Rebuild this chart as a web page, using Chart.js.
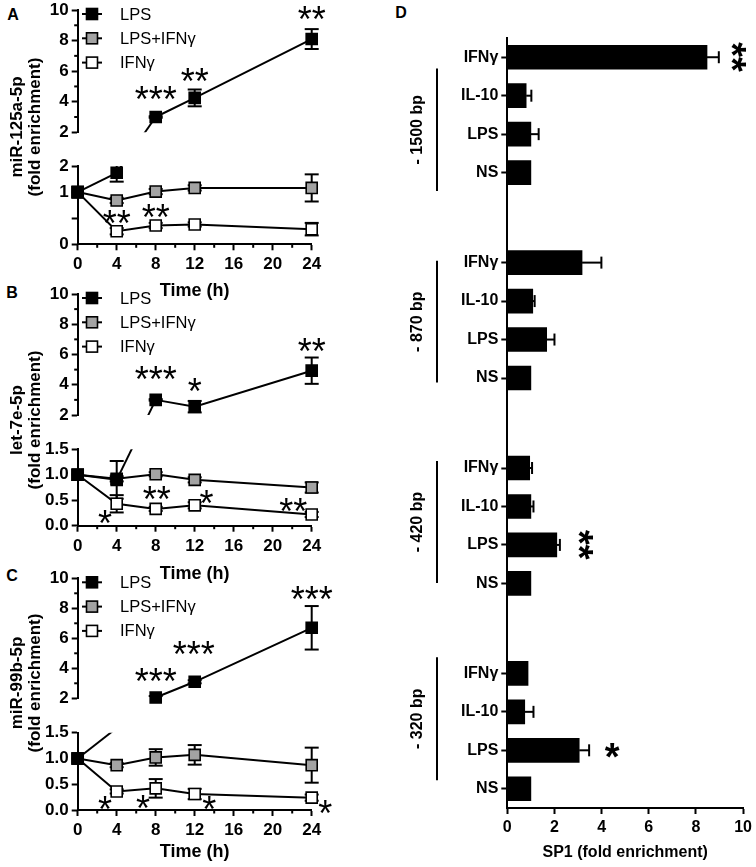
<!DOCTYPE html>
<html><head><meta charset="utf-8">
<script src="https://cdn.jsdelivr.net/npm/chart.js@4.4.1/dist/chart.umd.min.js"></script>
<style>
html,body{margin:0;padding:0;background:#fff;}
body{width:756px;height:867px;position:relative;overflow:hidden;font-family:'Liberation Sans',Arial,Helvetica,sans-serif;}
canvas{position:absolute;}
.lbl{position:absolute;font-weight:bold;font-size:16px;line-height:16px;transform:translate(-50%,-50%);color:#000;}
</style></head><body>
<div class="lbl" style="left:13px;top:15px">A</div>
<div class="lbl" style="left:12px;top:293px">B</div>
<div class="lbl" style="left:12px;top:576px">C</div>
<div class="lbl" style="left:401px;top:13px">D</div>
<canvas id="cA"></canvas>
<canvas id="cB"></canvas>
<canvas id="cC"></canvas>
<canvas id="cD"></canvas>
<script>
const FONT = "'Liberation Sans', Arial, Helvetica, sans-serif";
Chart.defaults.font.family = FONT;
Chart.defaults.color = '#000';

// ---------- shared categories ----------
const timePoints = [0, 4, 8, 12, 24];
const seriesNames = ['LPS', 'LPS+IFNγ', 'IFNγ'];

// ---------- Panel A : miR-125a-5p ----------
const A_lpsEarlyTimes = [0, 4];
const A_lpsEarly = [1.0, 1.37];
const A_lpsEarlyErr = [0, 0.17];
const A_lpsLateTimes = [8, 12, 24];
const A_lpsLate = [3.0, 4.25, 8.1];
const A_lpsLateErr = [0.05, 0.55, 0.65];
const A_lpsIfn = [1.0, 0.84, 1.01, 1.08, 1.08];
const A_lpsIfnErr = [0, 0.05, 0.05, 0.05, 0.26];
const A_ifn = [1.0, 0.25, 0.36, 0.38, 0.29];
const A_ifnErr = [0, 0.06, 0.05, 0.04, 0.12];
const A_lowTickLabels = ['0', '', '1', '2'];
const A_stars = [['***', 8, 4.57, 'yUp'], ['**', 12, 5.75, 'yUp'], ['**', 24, 9.8, 'yUp'], ['**', 4, 0.53, 'yLow'], ['**', 8, 0.64, 'yLow']];

// ---------- Panel B : let-7e-5p ----------
const B_lpsEarlyTimes = [0, 4];
const B_lpsEarly = [1.0, 0.9];
const B_lpsEarlyErr = [0, 0.37];
const B_lpsLateTimes = [8, 12, 24];
const B_lpsLate = [3.0, 2.55, 4.93];
const B_lpsLateErr = [0.05, 0.38, 0.87];
const B_lpsIfn = [1.0, 0.92, 1.01, 0.9, 0.75];
const B_lpsIfnErr = [0, 0.05, 0.04, 0.05, 0.1];
const B_ifn = [1.0, 0.43, 0.33, 0.4, 0.22];
const B_ifnErr = [0, 0.17, 0.04, 0.06, 0.05];
const B_lowTickLabels = ['0.0', '0.5', '1.0', '1.5'];
const B_stars = [['***', 8, 4.78, 'yUp'], ['*', 12, 3.99, 'yUp'], ['**', 24, 6.64, 'yUp'], ['*', 2.8, 0.17, 'yLow'], ['**', 8.1, 0.64, 'yLow'], ['*', 13.2, 0.56, 'yLow'], ['**', 22.1, 0.41, 'yLow']];

// ---------- Panel C : miR-99b-5p ----------
const C_lpsEarlyTimes = [0];
const C_lpsEarly = [1.0];
const C_lpsEarlyErr = [0];
const C_lpsLateTimes = [8, 12, 24];
const C_lpsLate = [2.05, 3.1, 6.7];
const C_lpsLateErr = [0.1, 0.1, 1.45];
const C_lpsIfn = [1.0, 0.87, 1.02, 1.07, 0.87];
const C_lpsIfnErr = [0, 0.04, 0.16, 0.19, 0.34];
const C_ifn = [1.0, 0.36, 0.42, 0.31, 0.24];
const C_ifnErr = [0, 0.04, 0.18, 0.1, 0.06];
const C_lowTickLabels = ['0.0', '0.5', '1.0', '1.5'];
const C_stars = [['***', 8, 3.55, 'yUp'], ['***', 11.9, 5.33, 'yUp'], ['***', 24, 9.0, 'yUp'], ['*', 2.8, 0.14, 'yLow'], ['*', 6.7, 0.16, 'yLow'], ['*', 13.5, 0.13, 'yLow'], ['*', 25.4, 0.06, 'yLow']];

const xMinorTicks = [2, 6, 10, 14, 18, 22];
const upperMinorTicks = [3, 5, 7, 9];

// ---------- Panel D : SP1 ChIP ----------
const D_treatments = ['IFNγ', 'IL-10', 'LPS', 'NS'];
const D_groups = ['- 1500 bp', '- 870 bp', '- 420 bp', '- 320 bp'];
const D_1500 = [8.47, 0.8, 1.0, 1.0];
const D_1500err = [0.5, 0.22, 0.33, 0];
const D_870 = [3.17, 1.08, 1.67, 1.0];
const D_870err = [0.82, 0.08, 0.33, 0];
const D_420 = [0.95, 1.0, 2.1, 1.0];
const D_420err = [0.1, 0.11, 0.13, 0];
const D_320 = [0.88, 0.74, 3.05, 1.0];
const D_320err = [0, 0.37, 0.42, 0];
const D_stars = [['**', 9.8, 0, 0, true], ['**', 3.3, 2, 2, true], ['*', 4.45, 3, 2, false]];

// ---------- helpers ----------
const seriesFills = ['#000000', '#a3a3a3', '#ffffff'];
function pts(times, vals) { return times.map((t, k) => ({x: t, y: vals[k]})); }

function drawStar(ctx, text, cx, cy, font, rotate) {
  ctx.save();
  ctx.font = font; ctx.fillStyle = '#000';
  ctx.textAlign = 'left'; ctx.textBaseline = 'alphabetic';
  ctx.translate(cx, cy);
  if (rotate) ctx.rotate(Math.PI / 2);
  const m = ctx.measureText(text);
  const dx = -(m.actualBoundingBoxRight - m.actualBoundingBoxLeft) / 2;
  const dy = (m.actualBoundingBoxAscent - m.actualBoundingBoxDescent) / 2;
  ctx.fillText(text, dx, dy);
  ctx.restore();
}

function lineErrorBars(chart) {
  const ctx = chart.ctx;
  ctx.save(); ctx.strokeStyle = '#000'; ctx.lineWidth = 2;
  chart.data.datasets.forEach((ds, i) => {
    const meta = chart.getDatasetMeta(i);
    const ys = chart.scales[meta.yAxisID];
    meta.data.forEach((el, j) => {
      const e = ds.errors[j]; if (!e) return;
      const v = ds.data[j].y;
      [v + e, v - e].forEach(end => {
        const inside = end <= ys.max && end >= ys.min;
        const yEnd = inside ? ys.getPixelForValue(end) : (end > ys.max ? ys.top : ys.bottom);
        ctx.beginPath(); ctx.moveTo(el.x, el.y); ctx.lineTo(el.x, yEnd); ctx.stroke();
        if (inside) { ctx.beginPath(); ctx.moveTo(el.x - 7, yEnd); ctx.lineTo(el.x + 7, yEnd); ctx.stroke(); }
      });
    });
  });
  ctx.restore();
}

function linePanel(p) {
  const cv = document.getElementById(p.id);
  const W = 340;
  cv.width = W; cv.height = p.H;
  cv.style.left = '0px'; cv.style.top = p.top + 'px';
  cv.style.width = W + 'px'; cv.style.height = p.H + 'px';
  const padTop = p.T - p.top;
  const xH = p.top + p.H - p.Z;
  const yW = 77.7;
  const yTickFont = {family: FONT, size: 17, weight: 'bold'};
  const xTickFont = {family: FONT, size: 17, weight: 'bold'};
  const gridOpts = () => ({display: true, drawOnChartArea: false, drawTicks: true, tickLength: 6, tickWidth: 2, tickColor: '#000'});
  const borderOpts = () => ({display: true, color: '#000', width: 2});
  const mk = (label, times, vals, errs, axis, s) => ({
    label, data: pts(times, vals), errors: errs, yAxisID: axis, xAxisID: 'x',
    borderColor: '#000', borderWidth: 2, pointStyle: 'rect', pointRadius: 7.8, pointHoverRadius: 7.8,
    pointBackgroundColor: seriesFills[s], pointBorderColor: '#000', pointBorderWidth: 1.6,
    fill: false, tension: 0, clip: false
  });
  const datasets = [
    mk(seriesNames[0], p.lpsEarlyT, p.lpsEarly, p.lpsEarlyErr, 'yLow', 0),
    mk(seriesNames[0], p.lpsLateT, p.lpsLate, p.lpsLateErr, 'yUp', 0),
    mk(seriesNames[1], timePoints, p.lpsIfn, p.lpsIfnErr, 'yLow', 1),
    mk(seriesNames[2], timePoints, p.ifn, p.ifnErr, 'yLow', 2)
  ];
  const decor = {
    id: 'decor' + p.id,
    beforeDatasetsDraw(chart) {
      const ctx = chart.ctx, ca = chart.chartArea;
      const up = chart.scales.yUp, low = chart.scales.yLow;
      const early = chart.getDatasetMeta(0).data;
      const a = early[early.length - 1];
      const b = chart.getDatasetMeta(1).data[0];
      ctx.save();
      ctx.beginPath();
      ctx.rect(ca.left, up.top, ca.right - ca.left, up.bottom - up.top);
      ctx.rect(ca.left, low.top, ca.right - ca.left, low.bottom - low.top);
      ctx.clip();
      ctx.strokeStyle = '#000'; ctx.lineWidth = 2;
      ctx.beginPath(); ctx.moveTo(a.x, a.y); ctx.lineTo(b.x, b.y); ctx.stroke();
      ctx.restore();
      lineErrorBars(chart);
    },
    afterDatasetsDraw(chart) {
      const ctx = chart.ctx, ca = chart.chartArea;
      const xs = chart.scales.x, up = chart.scales.yUp;
      // minor ticks
      ctx.save(); ctx.strokeStyle = '#000'; ctx.lineWidth = 2;
      xMinorTicks.forEach(v => { const px = xs.getPixelForValue(v); ctx.beginPath(); ctx.moveTo(px, xs.top); ctx.lineTo(px, xs.top + 3.5); ctx.stroke(); });
      upperMinorTicks.forEach(v => { const py = up.getPixelForValue(v); ctx.beginPath(); ctx.moveTo(up.right - 3.5, py); ctx.lineTo(up.right, py); ctx.stroke(); });
      ctx.restore();
      // significance stars
      p.stars.forEach(s => drawStar(ctx, s[0], xs.getPixelForValue(s[1]), chart.scales[s[3]].getPixelForValue(s[2]), '36px ' + FONT, false));
      // legend
      ctx.save();
      seriesNames.forEach((name, k) => {
        const y = ca.top + 4 + k * 24.3;
        const mx = ca.left + 14.3;
        ctx.strokeStyle = '#000'; ctx.lineWidth = 2;
        ctx.beginPath(); ctx.moveTo(mx - 10, y); ctx.lineTo(mx + 10, y); ctx.stroke();
        ctx.fillStyle = seriesFills[k]; ctx.lineWidth = 1.6;
        ctx.fillRect(mx - 5.5, y - 5.5, 11, 11); ctx.strokeRect(mx - 5.5, y - 5.5, 11, 11);
        ctx.fillStyle = '#000'; ctx.font = '16.5px ' + FONT; ctx.textAlign = 'left'; ctx.textBaseline = 'middle';
        ctx.fillText(name, ca.left + 42.3, y + 1);
      });
      ctx.restore();
      // y-axis title (two lines)
      ctx.save();
      ctx.font = 'bold 17px ' + FONT; ctx.fillStyle = '#000'; ctx.textAlign = 'center'; ctx.textBaseline = 'middle';
      ctx.translate(17, p.titleY - p.top); ctx.rotate(-Math.PI / 2);
      ctx.fillText(p.yTitle, 0, 0);
      ctx.fillText('(fold enrichment)', 0, 18);
      ctx.restore();
    }
  };
  return new Chart(cv, {
    type: 'line',
    data: {datasets},
    options: {
      responsive: false, animation: false, events: [],
      layout: {padding: {top: padTop, right: W - 311.7, bottom: 0, left: 0}},
      plugins: {legend: {display: false}, tooltip: {enabled: false}},
      scales: {
        x: {type: 'linear', position: 'bottom', min: 0, max: 24,
            ticks: {stepSize: 4, font: xTickFont, padding: 4, maxRotation: 0, autoSkip: false},
            grid: gridOpts(), border: borderOpts(),
            title: {display: true, text: 'Time (h)', font: {family: FONT, size: 18, weight: 'bold'}, padding: 0},
            afterFit(s) { s.height = xH; }},
        yUp: {type: 'linear', position: 'left', stack: 'panel', stackWeight: p.U - p.T, weight: 3, min: 2, max: 10,
              ticks: {stepSize: 2, font: yTickFont, padding: 3, autoSkip: false},
              grid: gridOpts(), border: borderOpts(), afterFit(s) { s.width = yW; }},
        ySp: {type: 'linear', position: 'left', stack: 'panel', stackWeight: p.L - p.U, weight: 2,
              ticks: {display: false}, grid: {display: false, drawTicks: false}, border: {display: false},
              afterFit(s) { s.width = yW; }},
        yLow: {type: 'linear', position: 'left', stack: 'panel', stackWeight: p.Z - p.L, weight: 1, min: 0, max: 1.5,
               ticks: {stepSize: 0.5, font: yTickFont, padding: 3, autoSkip: false, callback: v => p.lowLabels[Math.round(v / 0.5)]},
               grid: gridOpts(), border: borderOpts(), afterFit(s) { s.width = yW; }}
      }
    },
    plugins: [decor]
  });
}

linePanel({id: 'cA', top: -10, H: 312, T: 10, U: 132.3, L: 166, Z: 244.3, titleY: 127, yTitle: 'miR-125a-5p',
  lpsEarlyT: A_lpsEarlyTimes, lpsEarly: A_lpsEarly, lpsEarlyErr: A_lpsEarlyErr,
  lpsLateT: A_lpsLateTimes, lpsLate: A_lpsLate, lpsLateErr: A_lpsLateErr,
  lpsIfn: A_lpsIfn, lpsIfnErr: A_lpsIfnErr, ifn: A_ifn, ifnErr: A_ifnErr, lowLabels: A_lowTickLabels, stars: A_stars});
linePanel({id: 'cB', top: 274, H: 311, T: 294, U: 415, L: 449.3, Z: 525.7, titleY: 420, yTitle: 'let-7e-5p',
  lpsEarlyT: B_lpsEarlyTimes, lpsEarly: B_lpsEarly, lpsEarlyErr: B_lpsEarlyErr,
  lpsLateT: B_lpsLateTimes, lpsLate: B_lpsLate, lpsLateErr: B_lpsLateErr,
  lpsIfn: B_lpsIfn, lpsIfnErr: B_lpsIfnErr, ifn: B_ifn, ifnErr: B_ifnErr, lowLabels: B_lowTickLabels, stars: B_stars});
linePanel({id: 'cC', top: 558, H: 305, T: 578.3, U: 698.3, L: 732.7, Z: 810, titleY: 683, yTitle: 'miR-99b-5p',
  lpsEarlyT: C_lpsEarlyTimes, lpsEarly: C_lpsEarly, lpsEarlyErr: C_lpsEarlyErr,
  lpsLateT: C_lpsLateTimes, lpsLate: C_lpsLate, lpsLateErr: C_lpsLateErr,
  lpsIfn: C_lpsIfn, lpsIfnErr: C_lpsIfnErr, ifn: C_ifn, ifnErr: C_ifnErr, lowLabels: C_lowTickLabels, stars: C_stars});

// ---------- Panel D ----------
(function () {
  const cv = document.getElementById('cD');
  const W = 386, H = 862;
  cv.width = W; cv.height = H;
  cv.style.left = '370px'; cv.style.top = '0px';
  cv.style.width = W + 'px'; cv.style.height = H + 'px';
  const GROUP_GAP = 1.34;
  const nT = D_treatments.length;
  const pos = (g, i) => g * (nT + GROUP_GAP) + i;
  const groupVals = [D_1500, D_870, D_420, D_320];
  const groupErrs = [D_1500err, D_870err, D_420err, D_320err];
  const bracket = [[0.29, 3.48], [-0.05, 3.12], [-0.18, 2.99], [-0.42, 2.78]];
  const barData = [], errs = [];
  groupVals.forEach((vals, g) => vals.forEach((v, i) => { barData.push({x: v, y: pos(g, i)}); errs.push(groupErrs[g][i]); }));
  const tickPositions = barData.map(d => d.y);
  const f16 = {family: FONT, size: 16, weight: 'bold'};
  const decor = {
    id: 'decorD',
    afterDatasetsDraw(chart) {
      const ctx = chart.ctx, xs = chart.scales.x, ys = chart.scales.y;
      const meta = chart.getDatasetMeta(0);
      ctx.save(); ctx.strokeStyle = '#000'; ctx.lineWidth = 2;
      meta.data.forEach((el, j) => {
        const e = errs[j]; if (!e) return;
        const xe = xs.getPixelForValue(barData[j].x + e);
        ctx.beginPath(); ctx.moveTo(el.x, el.y); ctx.lineTo(xe, el.y); ctx.stroke();
        ctx.beginPath(); ctx.moveTo(xe, el.y - 6); ctx.lineTo(xe, el.y + 6); ctx.stroke();
      });
      // group brackets and labels
      D_groups.forEach((name, g) => {
        const y1 = ys.getPixelForValue(pos(g, 0) + bracket[g][0]);
        const y2 = ys.getPixelForValue(pos(g, 0) + bracket[g][1]);
        ctx.beginPath(); ctx.moveTo(67, y1); ctx.lineTo(67, y2); ctx.stroke();
        ctx.save();
        ctx.font = 'bold 16px ' + FONT; ctx.fillStyle = '#000'; ctx.textAlign = 'center'; ctx.textBaseline = 'middle';
        ctx.translate(48, (y1 + y2) / 2); ctx.rotate(-Math.PI / 2);
        ctx.fillText(name, 0, 0);
        ctx.restore();
      });
      ctx.restore();
      D_stars.forEach(s => drawStar(ctx, s[0], xs.getPixelForValue(s[1]), ys.getPixelForValue(pos(s[2], s[3])), 'bold 38px ' + FONT, s[4]));
    }
  };
  new Chart(cv, {
    type: 'bar',
    data: {datasets: [{data: barData, backgroundColor: '#000', borderWidth: 0, barThickness: 24}]},
    options: {
      indexAxis: 'y', responsive: false, animation: false, events: [],
      layout: {padding: {top: 38, right: 11, bottom: 0, left: 0}},
      plugins: {legend: {display: false}, tooltip: {enabled: false}},
      scales: {
        x: {type: 'linear', position: 'bottom', min: 0, max: 10,
            ticks: {stepSize: 2, font: f16, padding: 4, maxRotation: 0, autoSkip: false},
            grid: {drawOnChartArea: false, tickLength: 6, tickWidth: 2, tickColor: '#000'},
            border: {display: true, color: '#000', width: 2},
            title: {display: true, text: 'SP1 (fold enrichment)', font: f16, padding: 0},
            afterFit(s) { s.height = 54; }},
        y: {type: 'linear', position: 'left', reverse: true, min: -0.5, max: pos(3, 3) + 0.5, offset: false,
            afterBuildTicks(s) { s.ticks = tickPositions.map(v => ({value: v})); },
            ticks: {autoSkip: false, font: f16, padding: 3, callback: (v, i) => D_treatments[i % nT]},
            grid: {drawOnChartArea: false, offset: false, tickLength: 6, tickWidth: 2, tickColor: '#000'},
            border: {display: true, color: '#000', width: 2},
            afterFit(s) { s.width = 137.3; }}
      }
    },
    plugins: [decor]
  });
})();
</script>
</body></html>
